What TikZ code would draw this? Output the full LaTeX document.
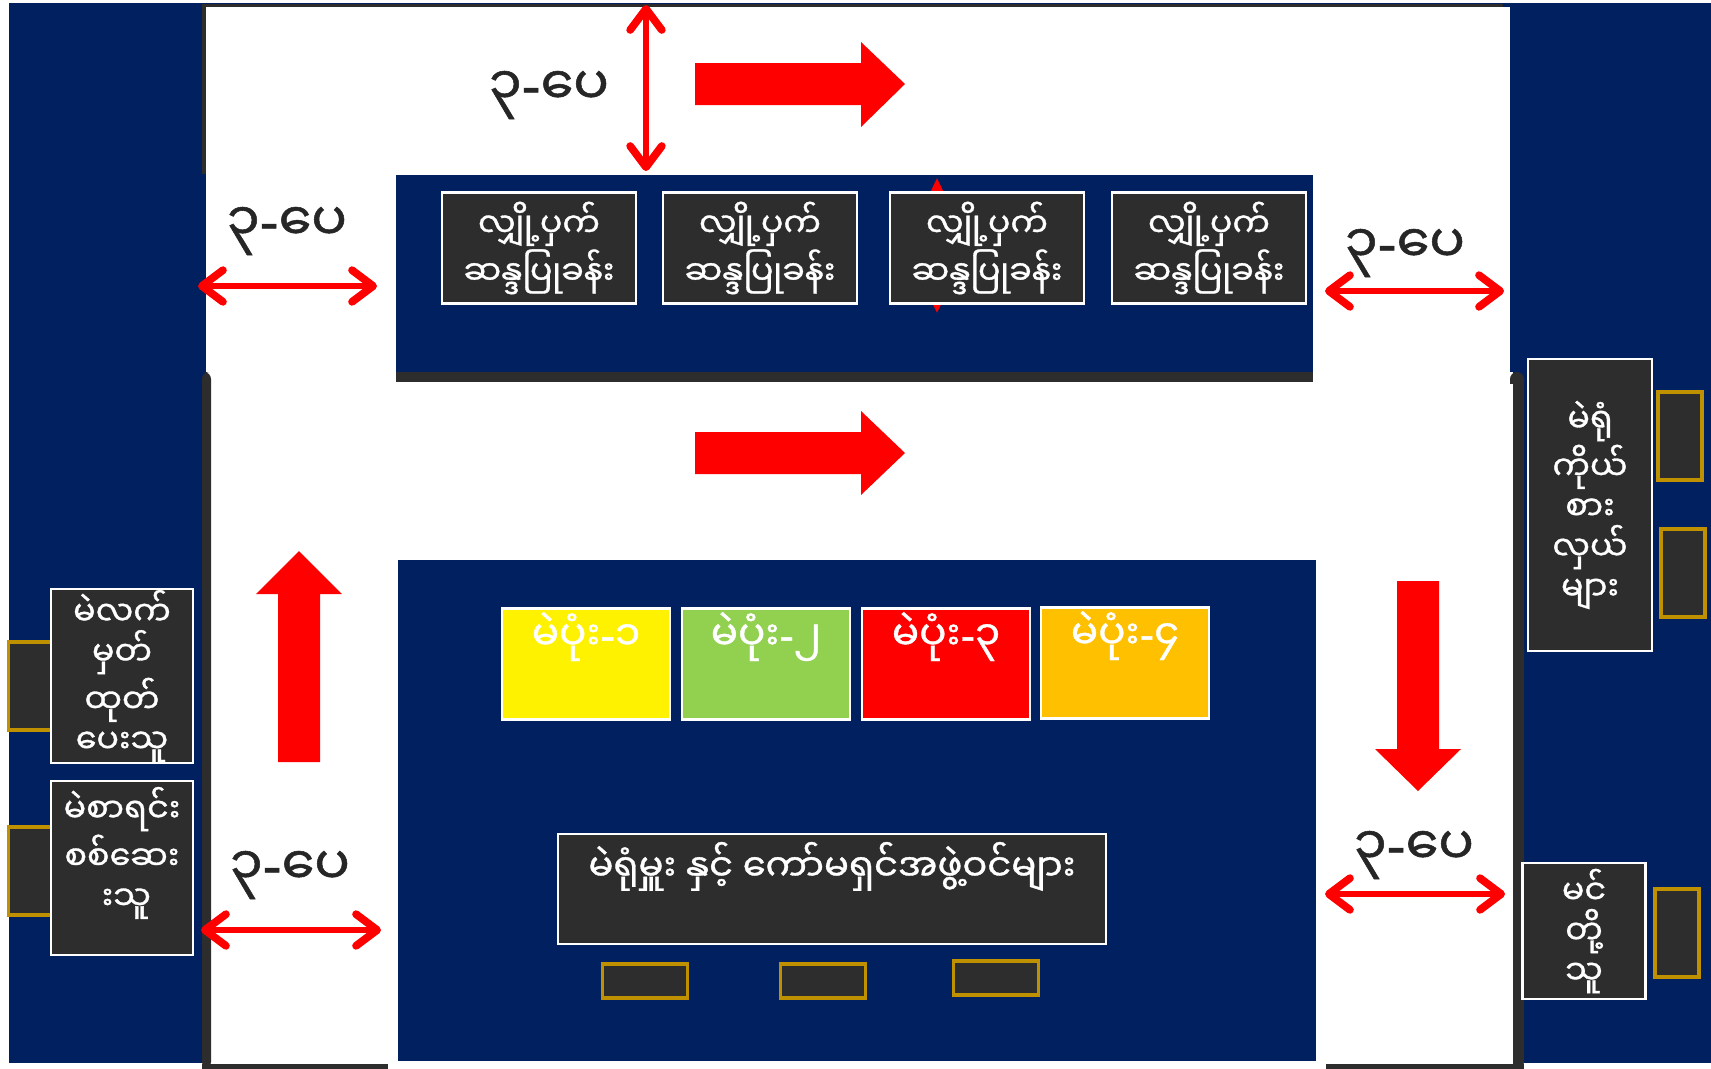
\documentclass[tikz,border=0pt]{standalone}
\usepackage{fontspec}
\usepackage{xcolor}
\usepackage{tikz}
\usetikzlibrary{positioning,arrows.meta}
\newfontfamily\mmfont[Script=Myanmar, FakeBold=1]{Noto Sans Myanmar UI}
\newfontfamily\dashfont[FakeBold=1]{DejaVu Sans}
\definecolor{HallNavy}{HTML}{002060}
\definecolor{DeskGray}{HTML}{2D2D2D}
\definecolor{SeatGold}{HTML}{BF9000}
\definecolor{BoxGreen}{HTML}{92D050}
\definecolor{BoxOrange}{HTML}{FFC000}
\definecolor{LabelGray}{HTML}{262626}

\tikzset{
  desk/.style={draw=white, fill=DeskGray, line width=0.6pt, text=white, align=center, inner sep=0pt,
    font=\mmfont\fontsize{9.5}{11.4}\selectfont},
  seat/.style={draw=SeatGold, fill=DeskGray, line width=0.9pt, inner sep=0pt},
  ballot/.style={draw=white, line width=0.6pt, minimum width=1.68cm, minimum height=1.11cm, inner sep=0pt},
  ballottext/.style={text=white, inner sep=0pt, font=\mmfont\fontsize{11.5}{14}\selectfont},
  gap/.style={draw=red, line width=1.7pt,
    {Straight Barb[length=6pt,width=9pt,line width=2.2pt,round]}-{Straight Barb[length=6pt,width=9pt,line width=2.2pt,round]}},
  gaplabel/.style={text=LabelGray, inner sep=0pt, font=\mmfont\fontsize{15}{18}\selectfont},
  flow/.style={fill=red, draw=none},
}

\begin{document}
\begin{tikzpicture}[x=0.01cm, y=-0.01cm]
  \useasboundingbox (0,0) rectangle (1711,1069);

  % hall and walkway
  \fill[HallNavy] (9,3) rectangle (1711,1063);
  \fill[white] (206,7) rectangle (1510,416);
  \fill[white] (210,372) rectangle (1513,1066);
  \fill[DeskGray] (205,4) rectangle (1503,7);
  \fill[DeskGray] (202,4) rectangle (206,174);
  \fill[DeskGray, rounded corners=2pt] (202,372) rectangle (211,1069);
  \fill[DeskGray, rounded corners=2pt] (1510,372) rectangle (1524,1069);
  \fill[white] (1510,384) rectangle (1513,1066);
  \fill[DeskGray] (202,1064) rectangle (388,1069);
  \fill[DeskGray] (1326,1064) rectangle (1524,1069);

  % booth bay and voting area
  \fill[DeskGray] (396,372) rectangle (1313,382);
  \fill[HallNavy] (396,175) rectangle (1313,372);
  \fill[HallNavy] (398,560) rectangle (1316,1061);

  % flow of voters
  \fill[flow] (695,63) -- (861,63) -- (861,42) -- (905,84) -- (861,127) -- (861,105) -- (695,105) -- cycle;
  \fill[flow] (695,432) -- (861,432) -- (861,411) -- (905,453) -- (861,495) -- (861,474) -- (695,474) -- cycle;
  \fill[flow] (278,762) -- (278,594) -- (256,594) -- (299,551) -- (342,594) -- (320,594) -- (320,762) -- cycle;
  \fill[flow] (1397,581) -- (1439,581) -- (1439,749) -- (1461,749) -- (1418,791) -- (1375,749) -- (1397,749) -- cycle;

  % hidden gap behind third booth
  \coordinate (boothGapA) at (937,178);
  \coordinate (boothGapB) at (937,313);
  \draw[red, line width=1pt, {Triangle[length=5pt,width=4.5pt]}-{Triangle[length=5pt,width=4.5pt]}] (boothGapA) -- (boothGapB);

  % secret booths
  \node[desk, minimum width=1.94cm, minimum height=1.11cm] (booth1) at (539,248) {လျှို့ပှက်\\ဆန္ဒပြုခန်း};
  \node[desk, minimum width=1.94cm, minimum height=1.11cm] (booth2) at (760,248) {လျှို့ပှက်\\ဆန္ဒပြုခန်း};
  \node[desk, minimum width=1.94cm, minimum height=1.11cm] (booth3) at (987,248) {လျှို့ပှက်\\ဆန္ဒပြုခန်း};
  \node[desk, minimum width=1.94cm, minimum height=1.11cm] (booth4) at (1209,248) {လျှို့ပှက်\\ဆန္ဒပြုခန်း};

  % ballot boxes
  \node[ballot, fill=yellow] (ballot1) at (586,664) {};
  \node[ballot, fill=BoxGreen] (ballot2) at (766,664) {};
  \node[ballot, fill=red] (ballot3) at (946,664) {};
  \node[ballot, fill=BoxOrange] (ballot4) at (1125,663) {};
  \node[ballottext, below=0.04cm of ballot1.north] (ballot1text) {မဲပုံး{\dashfont -}၁};
  \node[ballottext, below=0.04cm of ballot2.north] (ballot2text) {မဲပုံး{\dashfont -}၂};
  \node[ballottext, below=0.04cm of ballot3.north] (ballot3text) {မဲပုံး{\dashfont -}၃};
  \node[ballottext, below=0.04cm of ballot4.north] (ballot4text) {မဲပုံး{\dashfont -}၄};

  % officers table and seats
  \node[desk, minimum width=5.47cm, minimum height=1.1cm] (officers) at (832,889) {};
  \node[desk, draw=none, fill=none, below=0.08cm of officers.north, font=\mmfont\fontsize{10.5}{13}\selectfont] (officerstext) {မဲရုံမှူး နှင့် ကော်မရှင်အဖွဲ့ဝင်များ};
  \node[seat, minimum width=0.85cm, minimum height=0.34cm] (oseat1) at (645,981) {};
  \node[seat, minimum width=0.85cm, minimum height=0.34cm] (oseat2) at (823,981) {};
  \node[seat, minimum width=0.85cm, minimum height=0.34cm] (oseat3) at (996,978) {};

  % left desks
  \node[seat, minimum width=0.43cm, minimum height=0.88cm] (lseat1) at (30,686) {};
  \node[seat, minimum width=0.43cm, minimum height=0.88cm] (lseat2) at (30,871) {};
  \node[desk, minimum width=1.42cm, minimum height=1.74cm] (issuer) at (122,676) {မဲလက်\\မှတ်\\ထုတ်\\ပေးသူ};
  \node[desk, minimum width=1.42cm, minimum height=1.74cm] (checker) at (122,868) {};
  \node[desk, draw=none, fill=none, below=0.06cm of checker.north] (checkertext) {မဲစာရင်း\\စစ်ဆေး\\^^^^00a0းသူ};

  % right desks
  \node[seat, minimum width=0.44cm, minimum height=0.88cm] (rseat1) at (1680,436) {};
  \node[seat, minimum width=0.44cm, minimum height=0.88cm] (rseat2) at (1683,573) {};
  \node[seat, minimum width=0.44cm, minimum height=0.88cm] (rseat3) at (1677,933) {};
  \node[desk, minimum width=1.24cm, minimum height=2.91cm] (agents) at (1590,505) {မဲရုံ\\ကိုယ်\\စား\\လှယ်\\များ};
  \node[desk, minimum width=1.23cm, minimum height=1.36cm] (inker) at (1584,931) {မင်\\တို့\\သူ};

  % clearances
  \coordinate (topA) at (646,5);
  \coordinate (topB) at (646,171);
  \coordinate (leftUpA) at (198,286);
  \coordinate (leftUpB) at (377,286);
  \coordinate (rightUpA) at (1325,291);
  \coordinate (rightUpB) at (1504,291);
  \coordinate (leftLowA) at (201,930);
  \coordinate (leftLowB) at (381,930);
  \coordinate (rightLowA) at (1325,894);
  \coordinate (rightLowB) at (1505,894);
  \draw[gap] (topA) -- (topB);
  \draw[gap] (leftUpA) -- (leftUpB);
  \draw[gap] (rightUpA) -- (rightUpB);
  \draw[gap] (leftLowA) -- (leftLowB);
  \draw[gap] (rightLowA) -- (rightLowB);
  \node[gaplabel] (gapTop) at (549,95) {၃{\dashfont -}ပေ};
  \node[gaplabel] (gapLeftUp) at (287,231) {၃{\dashfont -}ပေ};
  \node[gaplabel] (gapRightUp) at (1405,253) {၃{\dashfont -}ပေ};
  \node[gaplabel] (gapLeftLow) at (290,875) {၃{\dashfont -}ပေ};
  \node[gaplabel] (gapRightLow) at (1414,855) {၃{\dashfont -}ပေ};

\end{tikzpicture}
\end{document}
